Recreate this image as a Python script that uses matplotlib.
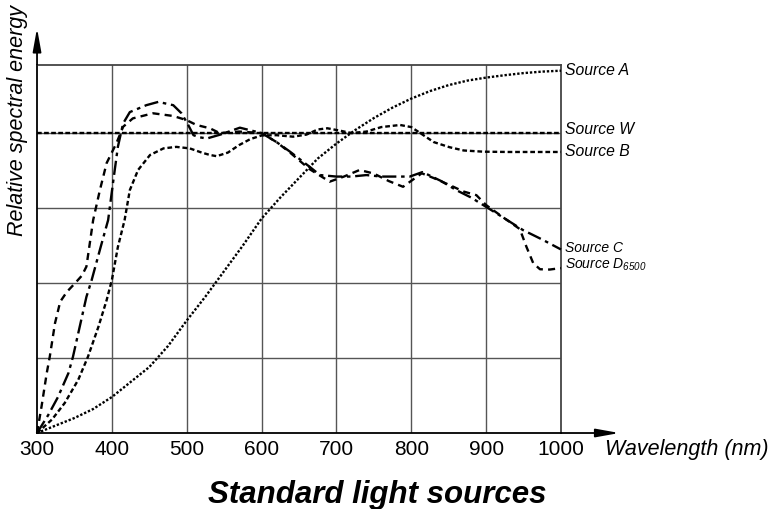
import matplotlib.pyplot as plt

plt.rcParams["font.family"] = ["Liberation Sans", "DejaVu Sans"]

# wavelengths (nm) and relative spectral energy
wl_a = [300, 325, 350, 375, 400, 425, 450, 475, 500, 525, 550, 575, 600, 625,
        650, 675, 700, 725, 750, 775, 800, 825, 850, 875, 900, 925, 950, 975, 1000]
src_a = [0, 2.5, 5, 8, 12, 17, 22, 29, 37.5, 45.5, 54, 62.5, 71.5, 78.5,
         85, 91.5, 96.5, 101, 105, 108.5, 111.5, 114, 116, 117.5, 118.5, 119.3, 120, 120.5, 120.8]

wl_w = [300, 1000]
src_w = [100, 100]

wl_b = [300, 320, 337, 355, 368, 382, 393, 400, 408, 417, 424, 435, 451, 469, 486,
        504, 520, 531, 540, 555, 570, 585, 600, 620, 642, 660, 675, 688, 705, 720,
        740, 760, 785, 800, 815, 830, 851, 870, 896, 930, 1000]
src_b = [0, 4.5, 10, 17.7, 25.4, 35.4, 44.3, 51, 62, 71, 81, 87.7, 92.7, 94.9, 95.4,
         94.9, 93.5, 92.7, 92.3, 93.5, 96, 98, 99.2, 99.3, 98.8, 99.5, 101.2, 101.6, 100.8, 100,
         100.5, 102, 102.7, 102, 99.5, 97, 95.3, 94.2, 93.8, 93.7, 93.7]

wl_c = [300, 315, 328, 342, 348, 357, 366, 373, 385, 395, 402, 408, 415, 424, 446,
        462, 482, 493, 502, 509, 517, 527, 545, 571, 600, 620, 638, 664, 678, 700,
        720, 740, 760, 780, 798, 815, 840, 860, 880, 900, 925, 949, 975, 1000]
src_c = [0, 6, 12, 20, 25.4, 35.4, 45.4, 51, 62, 71, 84.3, 95.4, 103.2, 107, 109.3,
         110.4, 109.3, 106.6, 102.7, 99.3, 98.6, 98.2, 99.5, 101.8, 100, 97, 93.8, 88.8, 86, 85.5,
         85.5, 86, 85.5, 85.5, 85.5, 87, 84, 81, 78.5, 75.4, 71.5, 67.7, 64.5, 61.2]

wl_d = [300, 306, 313, 317, 324, 331, 340, 351, 360, 366, 375, 384, 393, 406, 415,
        428, 455, 482, 500, 513, 531, 544, 570, 600, 620, 638, 664, 691, 710, 731,
        750, 770, 789, 814, 830, 851, 870, 887, 900, 925, 945, 954, 963, 972, 985, 1000]
src_d = [0, 8.8, 20, 25.4, 36.6, 43.8, 47.1, 50, 52.5, 55.5, 71, 81, 90, 96.6, 102.1,
         104.9, 106.6, 105.7, 104.3, 102.7, 101.6, 100, 100.5, 100, 97, 93.5, 88, 83.8, 85.5, 87.7,
         86.5, 84, 82.1, 86.6, 85, 82.7, 80.5, 79.3, 76, 71.5, 68, 62, 56.6, 54.6, 54.5, 55]

x_ticks = [300, 400, 500, 600, 700, 800, 900, 1000]
y_grid = [25, 50, 75, 100]

fig = plt.figure(figsize=(7.73, 5.09), dpi=100)
ax = fig.add_axes([0.0479, 0.1493, 0.6778, 0.723])
ax.set_xlim(300, 1000)
ax.set_ylim(0, 122.7)

for x in x_ticks[1:-1]:
    ax.axvline(x, color="#555555", lw=1.0, zorder=1)
for y in y_grid:
    ax.axhline(y, color="#555555", lw=1.0, zorder=1)

k = dict(color="black", lw=1.7, zorder=3, clip_on=False)
ax.plot(wl_a, src_a, ls=(0, (1, 0.8)), **k)
ax.plot(wl_w, src_w, ls=(0, (2, 1)), **k)
ax.plot(wl_b, src_b, ls=(0, (2, 1.2)), **k)
ax.plot(wl_c, src_c, ls=(0, (6, 2, 1.5, 2)), **k)
ax.plot(wl_d, src_d, ls=(0, (3, 2.2)), **k)

labels = ["Source A", "Source W", "Source B", "Source C"]
label_y = [120.7, 101.3, 93.7, 61.7]
sizes = [11.3, 11.3, 11.3, 10]
for t, y, s in zip(labels, label_y, sizes):
    ax.text(1006, y, t, fontsize=s, style="italic", va="center", ha="left")
ax.text(1006, 56, r"Source D$_{\mathregular{6500}}$", fontsize=10, style="italic",
        va="center", ha="left")

for side in ["top", "right"]:
    ax.spines[side].set_color("#444444")
    ax.spines[side].set_linewidth(1.3)
for side in ["left", "bottom"]:
    ax.spines[side].set_color("black")
    ax.spines[side].set_linewidth(1.3)

ax.set_xticks(x_ticks)
ax.set_xticklabels([str(v) for v in x_ticks], fontsize=15)
ax.set_yticks([])
ax.tick_params(axis="x", length=0, pad=5)

arrow = dict(arrowstyle="-|>,head_length=1.0,head_width=0.18", color="black",
             lw=1.3, mutation_scale=14, shrinkA=0, shrinkB=0)
ax.annotate("", xy=(1078, 0), xytext=(1000, 0), arrowprops=arrow, annotation_clip=False)
ax.annotate("", xy=(300, 135), xytext=(300, 122.7), arrowprops=arrow, annotation_clip=False)

ax.text(1059, -5.5, "Wavelength (nm)", fontsize=15.5, style="italic", va="center", ha="left",
        clip_on=False)
fig.text(0.023, 0.764, "Relative spectral energy", fontsize=15.5, style="italic",
         rotation=90, ha="center", va="center")
fig.text(0.488, 0.012, "Standard light sources", fontsize=22.5, style="italic",
         weight="bold", ha="center", va="baseline")

fig.savefig("out.png", dpi=100)
